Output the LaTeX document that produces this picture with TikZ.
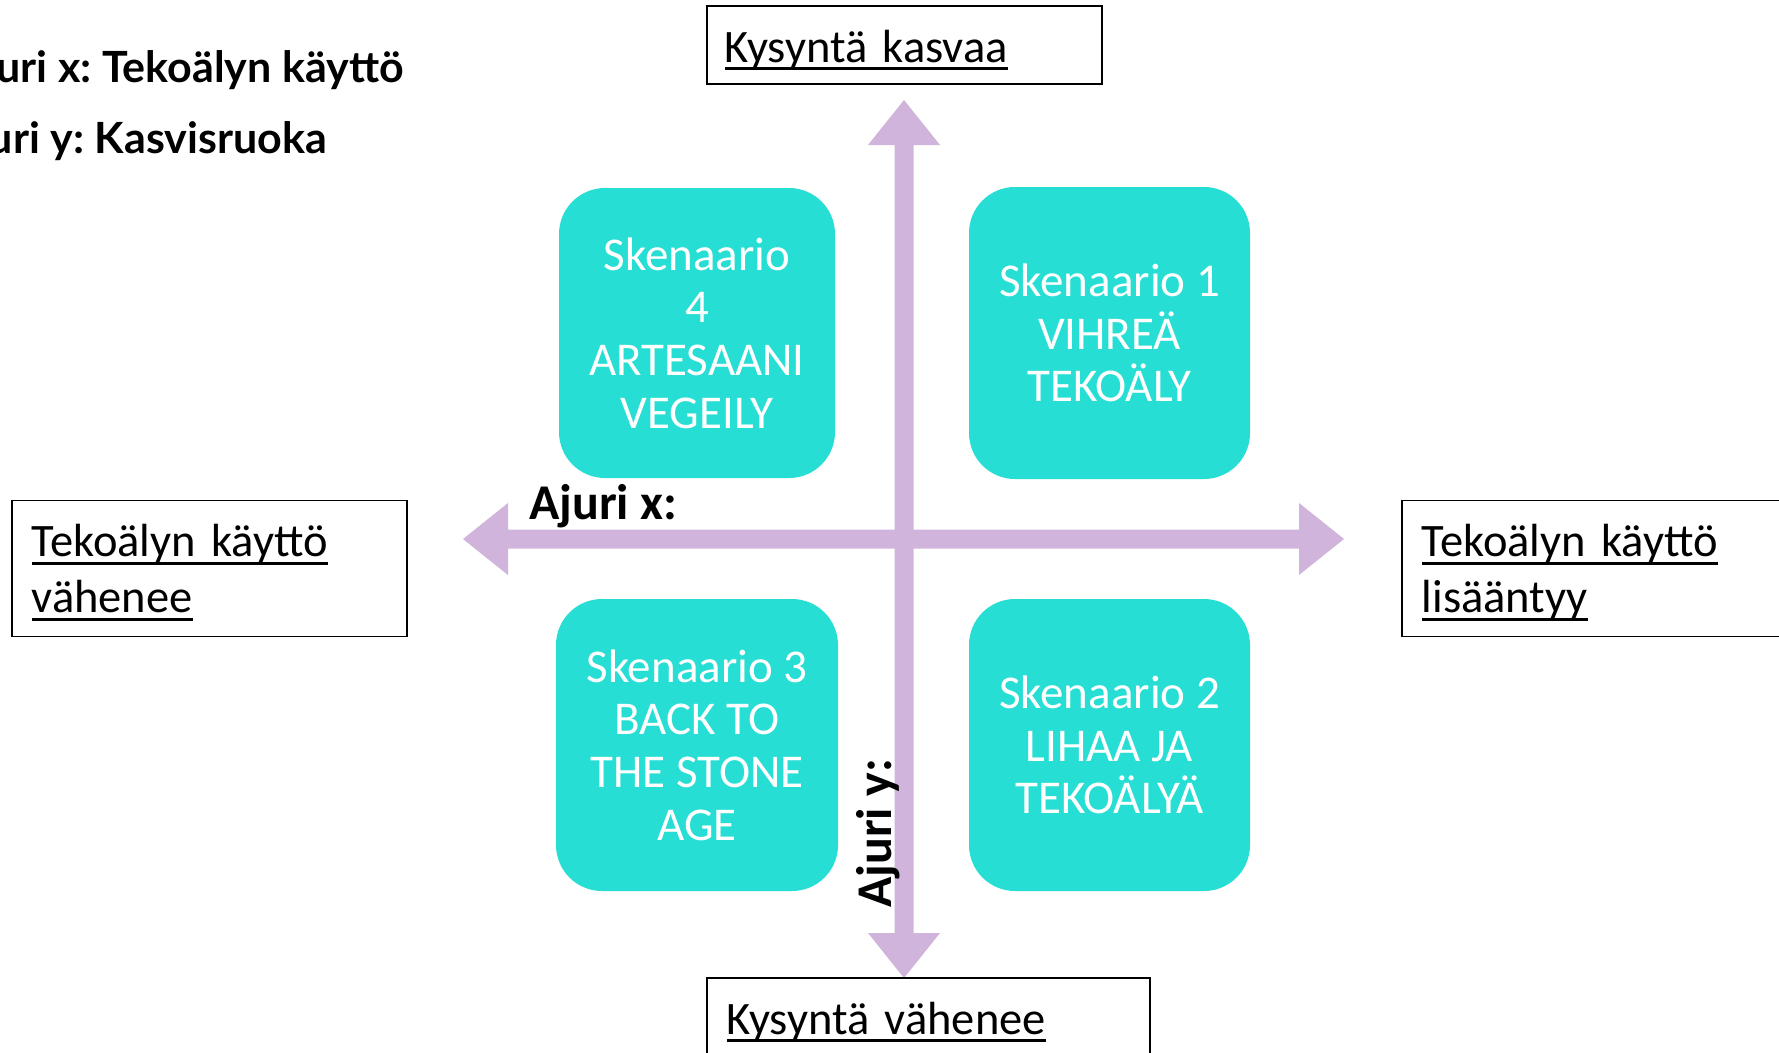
\documentclass[tikz,border=0pt]{standalone}
\usepackage{fontspec}
\setmainfont{Carlito}
\newfontfamily\latofont{Lato}
\frenchspacing

% underlined text with a rule placed just below the baseline
\newsavebox\ulsave
\newcommand\uln[1]{\leavevmode\sbox\ulsave{#1}\rlap{\rule[-8pt]{\wd\ulsave}{3pt}}\usebox\ulsave}

\definecolor{scenfill}{RGB}{38,222,212}
\definecolor{axisfill}{RGB}{209,180,219}

\tikzset{
  labelbox/.style={draw=black, line width=1.5pt, anchor=base west,
    inner xsep=20pt, inner ysep=0pt, text height=56pt, align=left,
    font=\fontsize{46.5}{56}\selectfont},
  scenbox/.style={fill=scenfill, rounded corners=46pt, text=white,
    align=center, inner sep=0pt, font=\fontsize{47}{52.6}\selectfont},
  drivertitle/.style={anchor=base east, inner sep=0pt,
    font=\latofont\bfseries\fontsize{43}{50}\selectfont},
  axistitle/.style={anchor=base west, inner sep=0pt,
    font=\bfseries\fontsize{50}{60}\selectfont}
}

\begin{document}
\begin{tikzpicture}[x=1pt,y=-1pt]
\fill[white] (0,0) rectangle (1779,1052);
\useasboundingbox (0,0) rectangle (1779,1052);

% driver titles in the corner
\node[drivertitle] (drvx) at (404,82) {Ajuri x: Tekoälyn käyttö};
\node[drivertitle] (drvy) at (327,153) {Ajuri y: Kasvisruoka};

% the two axes as double-headed block arrows
\coordinate (ctr) at (904,539);
\fill[axisfill] (904,100) -- (940,145) -- (913.5,145) -- (913.5,933)
  -- (940,933) -- (904,978) -- (868,933) -- (894.5,933) -- (894.5,145)
  -- (868,145) -- cycle;
\fill[axisfill] (463,539) -- (508,503) -- (508,529.5) -- (1299,529.5)
  -- (1299,503) -- (1344,539) -- (1299,575) -- (1299,548.5) -- (508,548.5)
  -- (508,575) -- cycle;

% axis end labels
\node[labelbox, inner xsep=18pt, text width=359pt, text depth=22pt] (ytop) at (706,62)
  {\uln{Kysyntä kasvaa}};
\node[labelbox, text width=403pt, text depth=22pt] (ybot) at (706,1034)
  {\uln{Kysyntä vähenee}};
\node[labelbox, text width=355pt, text depth=80pt] (xleft) at (11,556.5)
  {\uln{Tekoälyn käyttö}\\\uln{vähenee}};
\node[labelbox, text width=355pt, text depth=80pt] (xright) at (1401,556.5)
  {\uln{Tekoälyn käyttö}\\\uln{lisääntyy}};

% scenarios
\node[scenbox, minimum width=276pt, minimum height=290pt] (s4) at (697,333)
  {Skenaario\\4\\ARTESAANI\\VEGEILY};
\node[scenbox, minimum width=281pt, minimum height=292pt] (s1) at (1109.5,333)
  {Skenaario 1\\VIHREÄ\\TEKOÄLY};
\node[scenbox, minimum width=282pt, minimum height=292pt] (s3) at (697,745)
  {Skenaario 3\\BACK TO\\THE STONE\\AGE};
\node[scenbox, minimum width=281pt, minimum height=292pt] (s2) at (1109.5,745)
  {Skenaario 2\\LIHAA JA\\TEKOÄLYÄ};

% axis names
\node[axistitle] (axx) at (529,519) {Ajuri x:};
\node[axistitle, rotate=90] (axy) at (891,908) {Ajuri y:};
\end{tikzpicture}
\end{document}
